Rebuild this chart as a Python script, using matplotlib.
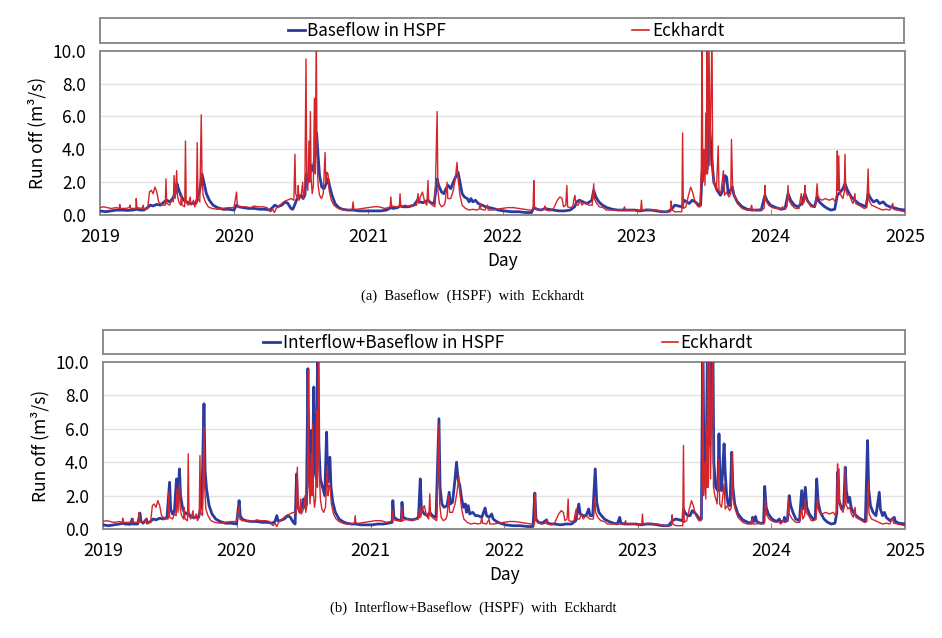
import numpy as np
import matplotlib
matplotlib.use("Agg")
import matplotlib.pyplot as plt

plt.rcParams['font.family'] = ['Noto Sans CJK KR', 'DejaVu Sans']

# (day since 2019-01-01, runoff m3/s)
eckhardt = [
    (0, 0.45), (10, 0.5), (20, 0.45), (30, 0.4), (45, 0.45), (53, 0.4), (54, 0.65), (56, 0.4),
    (70, 0.4), (80, 0.45), (82, 0.6), (84, 0.4), (98, 0.4), (99, 1.0), (101, 0.45), (115, 0.4),
    (118, 0.6), (120, 0.35), (130, 0.4), (135, 1.4), (140, 1.5), (145, 1.3), (150, 1.7), (155, 1.4),
    (160, 0.8), (170, 0.6), (178, 0.6), (180, 2.2), (182, 0.7), (190, 0.6), (195, 0.9), (200, 0.8),
    (202, 2.4), (205, 1.0), (209, 2.7), (211, 1.2), (215, 0.8), (220, 0.6), (222, 1.3), (224, 0.6),
    (231, 0.5), (233, 4.5), (235, 0.8), (240, 0.6), (246, 1.1), (248, 0.6), (255, 0.9), (258, 0.5),
    (263, 0.7), (265, 4.4), (267, 1.0), (272, 0.8), (276, 6.1), (278, 2.5), (281, 1.2), (287, 0.8),
    (295, 0.5), (305, 0.4), (320, 0.35), (335, 0.4), (350, 0.45), (365, 0.45), (372, 1.4), (374, 0.6),
    (380, 0.5), (395, 0.5), (410, 0.45), (420, 0.55), (430, 0.5), (445, 0.5), (455, 0.45), (460, 0.3),
    (465, 0.2), (470, 0.35), (475, 0.15), (480, 0.4), (490, 0.6), (500, 0.8), (510, 0.9), (520, 1.0),
    (528, 0.9), (531, 3.7), (533, 1.3), (538, 1.0), (540, 1.8), (542, 0.9), (548, 1.2), (552, 2.0),
    (554, 1.0), (558, 1.5), (561, 9.5), (563, 2.5), (566, 1.5), (569, 4.5), (571, 2.0), (573, 6.3),
    (575, 2.2), (578, 1.3), (581, 1.8), (584, 7.1), (586, 2.5), (589, 11.0), (591, 3.5), (594, 1.8),
    (598, 1.2), (603, 1.0), (608, 1.3), (613, 3.8), (615, 2.0), (618, 2.6), (621, 2.5), (624, 1.5),
    (630, 0.9), (637, 0.6), (645, 0.45), (655, 0.35), (665, 0.3), (675, 0.3), (687, 0.35), (689, 0.8),
    (691, 0.35), (700, 0.35), (715, 0.4), (730, 0.45), (745, 0.5), (760, 0.5), (775, 0.4), (785, 0.45),
    (790, 0.5), (792, 1.1), (794, 0.55), (805, 0.5), (815, 0.5), (817, 1.3), (819, 0.5), (830, 0.6),
    (845, 0.5), (855, 0.6), (862, 0.6), (866, 1.3), (868, 0.7), (872, 1.1), (878, 1.4), (884, 0.8),
    (890, 0.6), (893, 2.1), (895, 0.8), (905, 0.6), (912, 0.5), (918, 6.3), (920, 1.5), (924, 0.7),
    (930, 0.5), (937, 0.6), (940, 0.8), (945, 2.0), (947, 1.0), (955, 1.0), (962, 1.5), (968, 2.3),
    (972, 3.2), (975, 2.2), (980, 1.2), (986, 0.6), (995, 0.4), (1005, 0.3), (1015, 0.35), (1025, 0.3),
    (1032, 0.35), (1035, 0.7), (1037, 0.35), (1048, 0.3), (1055, 0.6), (1057, 0.3), (1068, 0.3),
    (1080, 0.35), (1095, 0.4), (1110, 0.45), (1125, 0.45), (1140, 0.4), (1155, 0.35), (1170, 0.3),
    (1179, 0.3), (1181, 2.1), (1183, 0.5), (1190, 0.35), (1200, 0.3), (1210, 0.35), (1212, 0.55),
    (1214, 0.3), (1225, 0.25), (1235, 0.4), (1245, 0.9), (1252, 1.1), (1258, 1.0), (1262, 0.5),
    (1268, 0.6), (1271, 1.8), (1273, 0.5), (1280, 0.45), (1287, 0.5), (1290, 0.9), (1293, 1.2),
    (1296, 0.6), (1302, 0.6), (1308, 0.9), (1312, 0.6), (1320, 0.8), (1330, 0.6), (1340, 0.6),
    (1344, 1.9), (1346, 1.0), (1352, 0.7), (1360, 0.5), (1370, 0.45), (1378, 0.3), (1390, 0.3),
    (1405, 0.3), (1418, 0.3), (1425, 0.35), (1428, 0.5), (1430, 0.3), (1440, 0.3), (1452, 0.3),
    (1460, 0.25), (1472, 0.3), (1474, 0.9), (1476, 0.3), (1490, 0.35), (1505, 0.3), (1515, 0.3),
    (1525, 0.25), (1535, 0.2), (1545, 0.2), (1553, 0.2), (1555, 0.85), (1557, 0.3), (1565, 0.2),
    (1575, 0.2), (1584, 0.2), (1586, 5.0), (1588, 0.4), (1595, 0.5), (1602, 1.2), (1608, 1.7),
    (1613, 1.4), (1620, 0.8), (1628, 0.5), (1634, 0.5), (1637, 3.0), (1639, 11.0), (1641, 2.0),
    (1644, 4.0), (1647, 1.8), (1649, 6.2), (1651, 2.5), (1652, 11.0), (1654, 2.5), (1658, 11.0),
    (1660, 3.0), (1666, 11.0), (1668, 2.5), (1672, 2.0), (1678, 1.5), (1683, 4.2), (1685, 1.5),
    (1690, 1.3), (1697, 2.7), (1700, 1.2), (1706, 1.4), (1712, 1.1), (1717, 1.3), (1719, 4.6),
    (1722, 1.8), (1727, 1.2), (1735, 0.7), (1748, 0.4), (1760, 0.3), (1770, 0.3), (1774, 0.6),
    (1776, 0.3), (1785, 0.3), (1795, 0.35), (1800, 0.3), (1808, 0.4), (1810, 1.8), (1812, 0.9),
    (1820, 0.6), (1830, 0.45), (1840, 0.4), (1848, 0.45), (1852, 0.3), (1858, 0.5), (1862, 0.4),
    (1870, 0.5), (1873, 1.8), (1875, 0.9), (1883, 0.6), (1893, 0.4), (1903, 0.4), (1906, 0.9),
    (1909, 1.3), (1912, 0.6), (1917, 0.8), (1919, 1.8), (1921, 1.0), (1928, 0.8), (1935, 0.5),
    (1942, 0.5), (1948, 0.6), (1952, 1.9), (1954, 1.2), (1958, 1.0), (1965, 0.9), (1975, 1.0),
    (1985, 0.9), (1995, 1.0), (2002, 0.8), (2005, 1.2), (2007, 3.9), (2009, 1.5), (2011, 3.6),
    (2013, 1.5), (2017, 1.2), (2022, 1.0), (2026, 1.4), (2028, 3.7), (2030, 1.5), (2035, 1.2),
    (2040, 1.3), (2045, 0.9), (2050, 0.7), (2055, 1.3), (2057, 0.7), (2065, 0.6), (2073, 0.5),
    (2080, 0.4), (2087, 0.45), (2091, 2.8), (2093, 0.9), (2100, 0.6), (2110, 0.5), (2120, 0.4),
    (2130, 0.3), (2140, 0.35), (2150, 0.3), (2158, 0.7), (2160, 0.35), (2170, 0.3), (2180, 0.25),
    (2192, 0.2),
]

hspf_base = [
    (0, 0.25), (15, 0.2), (30, 0.25), (45, 0.3), (60, 0.3), (75, 0.28), (90, 0.3), (100, 0.35),
    (110, 0.3), (120, 0.3), (130, 0.45), (137, 0.6), (145, 0.55), (155, 0.65), (165, 0.6), (175, 0.8),
    (182, 0.9), (190, 0.8), (198, 1.0), (205, 1.3), (210, 1.9), (214, 1.6), (220, 1.2), (228, 0.9),
    (236, 0.8), (245, 0.7), (255, 0.7), (262, 0.75), (268, 1.2), (272, 1.5), (278, 2.5), (283, 2.0),
    (290, 1.3), (298, 0.9), (308, 0.6), (320, 0.45), (335, 0.35), (350, 0.35), (365, 0.3), (372, 0.6),
    (378, 0.5), (390, 0.45), (405, 0.4), (420, 0.4), (435, 0.35), (450, 0.35), (462, 0.3), (470, 0.45),
    (476, 0.6), (484, 0.5), (495, 0.6), (505, 0.8), (512, 0.7), (520, 0.4), (525, 0.35), (530, 0.6),
    (535, 0.9), (540, 1.1), (548, 1.2), (553, 1.0), (558, 1.2), (562, 2.5), (566, 2.0), (570, 2.3),
    (575, 3.0), (580, 2.7), (585, 3.5), (590, 5.0), (594, 3.6), (598, 2.4), (604, 1.7), (610, 1.6),
    (616, 1.9), (621, 2.2), (626, 1.7), (632, 1.2), (640, 0.7), (650, 0.45), (660, 0.35), (675, 0.3),
    (690, 0.3), (705, 0.25), (720, 0.25), (735, 0.25), (750, 0.25), (765, 0.25), (780, 0.3),
    (792, 0.45), (798, 0.4), (810, 0.45), (817, 0.55), (825, 0.5), (840, 0.5), (855, 0.6), (866, 0.95),
    (870, 0.8), (880, 0.75), (893, 0.9), (900, 0.75), (910, 0.7), (918, 2.2), (922, 1.8), (930, 1.4),
    (936, 1.3), (942, 1.6), (948, 1.8), (955, 1.6), (962, 2.0), (968, 2.3), (975, 2.6), (980, 2.0),
    (986, 1.3), (992, 1.1), (1000, 1.0), (1005, 0.8), (1010, 1.0), (1015, 0.8), (1022, 0.9),
    (1030, 0.7), (1040, 0.6), (1050, 0.5), (1060, 0.45), (1070, 0.4), (1085, 0.3), (1100, 0.25),
    (1120, 0.2), (1140, 0.2), (1160, 0.15), (1175, 0.15), (1181, 0.45), (1190, 0.35), (1200, 0.3),
    (1212, 0.4), (1220, 0.35), (1235, 0.3), (1250, 0.25), (1265, 0.25), (1280, 0.3), (1292, 0.5),
    (1298, 0.8), (1305, 0.9), (1315, 0.8), (1325, 0.7), (1333, 0.8), (1339, 0.9), (1344, 1.5),
    (1350, 1.1), (1358, 0.8), (1368, 0.6), (1380, 0.45), (1395, 0.35), (1410, 0.3), (1425, 0.3),
    (1440, 0.3), (1455, 0.3), (1470, 0.25), (1485, 0.3), (1500, 0.3), (1515, 0.25), (1530, 0.2),
    (1545, 0.2), (1556, 0.35), (1565, 0.6), (1575, 0.55), (1584, 0.5), (1590, 0.9), (1597, 0.8),
    (1604, 0.7), (1612, 0.9), (1620, 0.8), (1630, 0.6), (1635, 0.6), (1639, 2.5), (1647, 3.0),
    (1653, 2.8), (1659, 5.6), (1665, 3.5), (1671, 2.0), (1680, 1.5), (1689, 1.2), (1696, 1.5),
    (1701, 2.4), (1706, 2.3), (1710, 1.3), (1716, 1.5), (1721, 1.7), (1726, 1.2), (1735, 0.8),
    (1748, 0.5), (1762, 0.35), (1775, 0.3), (1790, 0.3), (1800, 0.3), (1810, 1.2), (1815, 0.9),
    (1825, 0.6), (1840, 0.45), (1855, 0.35), (1865, 0.4), (1873, 1.3), (1880, 0.9), (1890, 0.6),
    (1900, 0.5), (1910, 0.7), (1919, 1.3), (1925, 0.9), (1935, 0.6), (1945, 0.5), (1952, 1.1),
    (1958, 0.8), (1970, 0.55), (1980, 0.4), (1990, 0.3), (2000, 0.35), (2007, 1.2), (2015, 1.4),
    (2022, 1.6), (2028, 1.9), (2035, 1.5), (2045, 1.1), (2055, 0.9), (2065, 0.7), (2075, 0.6),
    (2085, 0.5), (2091, 1.3), (2098, 1.0), (2105, 0.8), (2115, 0.9), (2122, 0.7), (2132, 0.8),
    (2140, 0.6), (2150, 0.5), (2160, 0.45), (2175, 0.35), (2192, 0.3),
]

hspf_inter_base = [
    (0, 0.25), (15, 0.2), (30, 0.25), (45, 0.3), (55, 0.35), (60, 0.3), (75, 0.28), (80, 0.6),
    (82, 0.3), (95, 0.3), (101, 0.95), (104, 0.45), (110, 0.35), (119, 0.6), (121, 0.35), (130, 0.45),
    (137, 0.6), (145, 0.55), (155, 0.65), (165, 0.6), (175, 0.7), (182, 2.8), (185, 1.2), (190, 0.9),
    (195, 1.0), (201, 3.0), (204, 1.6), (209, 3.6), (212, 2.0), (218, 1.2), (225, 0.9), (233, 1.0),
    (237, 0.8), (245, 0.7), (255, 0.7), (262, 0.75), (266, 1.2), (270, 1.4), (276, 7.5), (279, 3.5),
    (283, 2.4), (290, 1.4), (298, 0.9), (308, 0.6), (320, 0.45), (335, 0.35), (350, 0.35), (365, 0.3),
    (372, 1.7), (375, 0.8), (380, 0.6), (390, 0.5), (405, 0.45), (420, 0.45), (435, 0.4), (450, 0.4),
    (462, 0.35), (470, 0.45), (475, 0.8), (478, 0.5), (484, 0.5), (495, 0.6), (505, 0.8), (512, 0.7),
    (520, 0.4), (525, 0.3), (529, 3.3), (532, 1.4), (538, 1.0), (543, 1.3), (548, 1.8), (552, 1.3),
    (556, 1.5), (560, 9.6), (563, 3.5), (566, 2.5), (569, 5.9), (572, 3.0), (576, 8.5), (579, 3.5),
    (583, 3.0), (587, 12.0), (590, 5.0), (594, 3.0), (600, 2.5), (606, 2.0), (611, 5.8), (614, 2.8),
    (620, 4.3), (623, 2.5), (628, 1.6), (635, 1.0), (645, 0.6), (655, 0.45), (665, 0.35), (680, 0.3),
    (690, 0.3), (705, 0.25), (720, 0.25), (735, 0.25), (750, 0.3), (765, 0.3), (780, 0.35),
    (790, 0.4), (792, 1.7), (795, 0.7), (805, 0.55), (815, 0.5), (817, 1.6), (820, 0.7), (830, 0.6),
    (845, 0.55), (855, 0.6), (862, 0.7), (867, 3.0), (870, 1.2), (878, 0.9), (886, 0.8), (893, 1.0),
    (900, 0.8), (910, 0.7), (918, 6.6), (921, 2.5), (926, 1.5), (932, 1.3), (940, 1.4), (946, 2.2),
    (949, 1.5), (955, 1.6), (961, 2.8), (966, 4.0), (970, 3.0), (975, 2.6), (980, 1.8), (985, 1.3),
    (990, 1.5), (993, 1.0), (998, 1.4), (1002, 0.9), (1010, 1.0), (1018, 0.8), (1025, 0.8),
    (1035, 0.7), (1044, 1.26), (1048, 0.8), (1055, 0.7), (1062, 0.9), (1066, 0.6), (1075, 0.45),
    (1085, 0.35), (1100, 0.25), (1120, 0.2), (1140, 0.2), (1160, 0.15), (1175, 0.15), (1180, 2.15),
    (1183, 0.6), (1190, 0.4), (1200, 0.35), (1212, 0.55), (1215, 0.35), (1225, 0.3), (1235, 0.3),
    (1250, 0.25), (1265, 0.3), (1280, 0.3), (1292, 0.5), (1300, 1.5), (1304, 0.9), (1312, 0.8),
    (1320, 0.8), (1327, 1.2), (1331, 0.8), (1338, 0.8), (1345, 3.6), (1349, 1.6), (1355, 1.0),
    (1362, 0.8), (1370, 0.6), (1382, 0.45), (1395, 0.35), (1405, 0.3), (1412, 0.7), (1415, 0.35),
    (1425, 0.3), (1440, 0.3), (1455, 0.3), (1470, 0.25), (1485, 0.3), (1500, 0.3), (1515, 0.25),
    (1530, 0.2), (1545, 0.2), (1556, 0.5), (1565, 0.6), (1575, 0.55), (1584, 0.5), (1586, 1.2),
    (1590, 1.0), (1597, 0.8), (1604, 0.8), (1610, 1.1), (1620, 0.9), (1630, 0.6), (1635, 0.6),
    (1639, 12.0), (1642, 4.0), (1645, 4.5), (1648, 3.5), (1652, 12.0), (1655, 5.0), (1658, 12.0),
    (1661, 6.0), (1666, 12.0), (1669, 4.0), (1674, 2.5), (1680, 2.3), (1683, 5.7), (1686, 2.8),
    (1690, 2.3), (1697, 5.1), (1700, 3.4), (1704, 2.0), (1708, 1.5), (1713, 1.4), (1718, 4.6),
    (1721, 2.5), (1726, 1.5), (1735, 0.9), (1748, 0.55), (1762, 0.4), (1772, 0.35), (1775, 0.7),
    (1778, 0.45), (1783, 0.75), (1786, 0.45), (1795, 0.35), (1805, 0.35), (1808, 2.55), (1812, 1.3),
    (1818, 0.9), (1828, 0.6), (1840, 0.45), (1848, 0.6), (1850, 0.4), (1860, 0.5), (1862, 0.7),
    (1865, 0.45), (1870, 0.5), (1875, 2.0), (1879, 1.4), (1885, 1.0), (1893, 0.6), (1903, 0.5),
    (1909, 2.3), (1913, 1.2), (1919, 2.5), (1923, 1.3), (1930, 0.9), (1940, 0.6), (1946, 0.6),
    (1950, 3.0), (1954, 1.6), (1960, 1.0), (1970, 0.6), (1980, 0.4), (1990, 0.3), (2000, 0.35),
    (2005, 1.0), (2007, 3.4), (2010, 1.8), (2014, 1.5), (2018, 1.2), (2024, 1.4), (2028, 3.7),
    (2031, 2.3), (2036, 1.6), (2040, 1.9), (2044, 1.3), (2050, 1.0), (2058, 0.8), (2066, 0.65),
    (2075, 0.55), (2083, 0.45), (2089, 5.3), (2092, 2.4), (2097, 1.4), (2104, 1.0), (2112, 0.8),
    (2121, 2.2), (2124, 1.2), (2130, 0.8), (2135, 1.0), (2140, 0.7), (2150, 0.5), (2162, 0.7),
    (2165, 0.45), (2175, 0.35), (2192, 0.3),
]

year_ticks = ['2019', '2020', '2021', '2022', '2023', '2024', '2025']
y_ticks = [0, 2, 4, 6, 8, 10]

BLUE = '#2B3A9E'
RED = '#D4252A'
GRAY = '#8C8C8C'
start = np.datetime64('2019-01-01')


def to_xy(series):
    d = np.array([p[0] for p in series])
    q = np.array([p[1] for p in series])
    return start + d.astype('timedelta64[D]'), q


fig = plt.figure(figsize=(9.42, 6.38), dpi=100)

panels = [
    # axes rect, legend rect, blue series, blue label, handle/text positions, caption, caption y
    ([0.106, 0.663, 0.855, 0.2575], [0.106, 0.9326, 0.8535, 0.0392], hspf_base,
     'Baseflow in HSPF', (0.234, 0.255, 0.258), (0.662, 0.683, 0.687),
     '(a)  Baseflow  (HSPF)  with  Eckhardt', 0.536),
    ([0.1093, 0.1708, 0.8517, 0.2618], [0.1093, 0.4451, 0.8517, 0.0377], hspf_inter_base,
     'Interflow+Baseflow in HSPF', (0.1995, 0.2207, 0.2244), (0.6966, 0.717, 0.719),
     '(b)  Interflow+Baseflow  (HSPF)  with  Eckhardt', 0.047),
]

ex, ey = to_xy(eckhardt)
for rect, lrect, blue, blabel, bpos, rpos, caption, cy in panels:
    ax = fig.add_axes(rect)
    bx, by = to_xy(blue)
    ax.plot(bx, by, color=BLUE, lw=2.0, zorder=3)
    ax.plot(ex, ey, color=RED, lw=1.0, zorder=4)
    ax.set_xlim(np.datetime64('2019-01-01'), np.datetime64('2025-01-01'))
    ax.set_ylim(0, 10)
    ax.set_yticks(y_ticks)
    ax.set_yticklabels(['%.1f' % v for v in y_ticks], fontsize=12.5)
    ax.set_xticks([np.datetime64(y + '-01-01') for y in year_ticks])
    ax.set_xticklabels(year_ticks, fontsize=13)
    ax.tick_params(axis='y', length=0, pad=10)
    ax.tick_params(axis='x', direction='in', length=4, color=GRAY, pad=9.5)
    for y in y_ticks[1:-1]:
        ax.axhline(y, color='#E3E3E3', lw=1.0, zorder=1)
    for s in ax.spines.values():
        s.set_color(GRAY)
        s.set_linewidth(1.4)
    ax.set_xlabel('Day', fontsize=12.5, labelpad=4)
    ax.set_ylabel('Run off (m³/s)', fontsize=12.5, labelpad=4)

    # legend box above the plot
    lg = fig.add_axes(lrect)
    lg.set_xticks([])
    lg.set_yticks([])
    for s in lg.spines.values():
        s.set_color(GRAY)
        s.set_linewidth(1.4)
    lg.plot(bpos[:2], [0.5, 0.5], color=BLUE, lw=2.0, transform=lg.transAxes)
    lg.text(bpos[2], 0.47, blabel, fontsize=12.3, va='center', ha='left', transform=lg.transAxes)
    lg.plot(rpos[:2], [0.5, 0.5], color=RED, lw=1.2, transform=lg.transAxes)
    lg.text(rpos[2], 0.47, 'Eckhardt', fontsize=12.3, va='center', ha='left', transform=lg.transAxes)
    lg.set_xlim(0, 1)
    lg.set_ylim(0, 1)

    fig.text(0.502, cy, caption, family='Liberation Serif', fontsize=10.5, ha='center', va='center')

fig.savefig('out.png', dpi=100)
